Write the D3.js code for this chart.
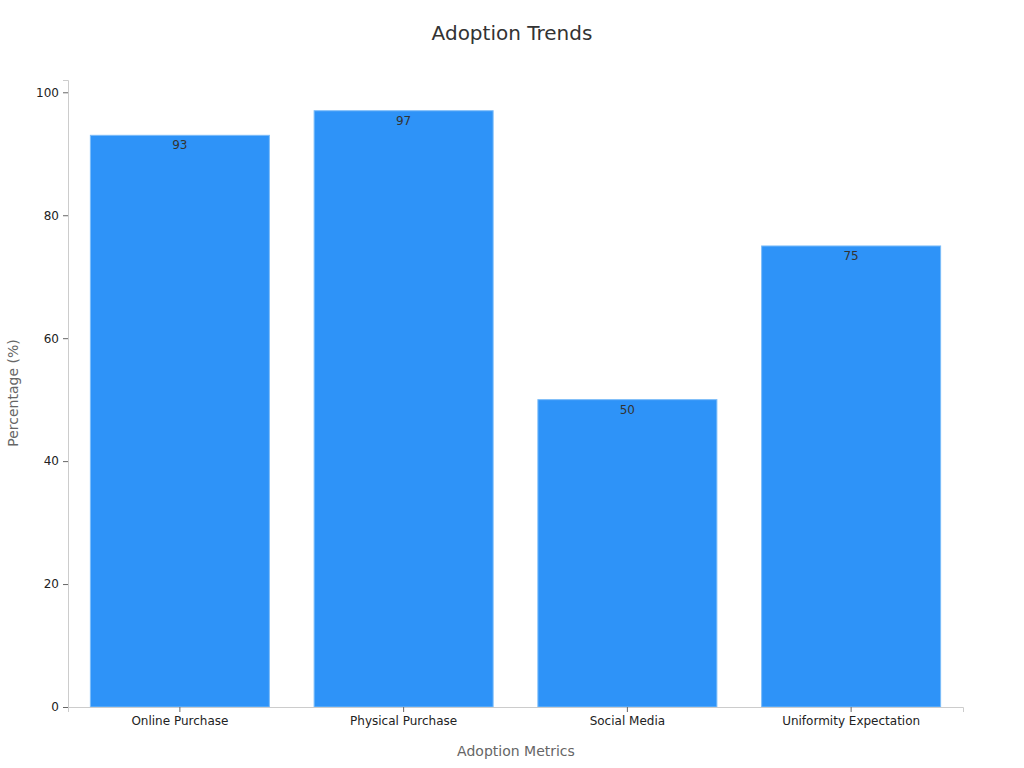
<!DOCTYPE html><html><head><meta charset="utf-8"><script src="https://cdn.jsdelivr.net/npm/d3@7"></script>
<style>body{margin:0;background:#fff}text{font-family:"DejaVu Sans",sans-serif}</style></head><body><svg id="c" width="1024" height="768"></svg><script>
const categories=["Online Purchase","Physical Purchase","Social Media","Uniformity Expectation"];
const values=[93,97,50,75];
const yTicks=[0,20,40,60,80,100];
const svg=d3.select("#c");
const m={l:68,r:963,t:80,b:707};
const x=d3.scaleBand().domain(categories).range([m.l,m.r]).paddingInner(0.2).paddingOuter(0.1);
const y=d3.scaleLinear().domain([0,102]).range([m.b,m.t]);
svg.append("text").attr("x",512).attr("y",40).attr("text-anchor","middle").attr("font-size",20).attr("fill","#333").text("Adoption Trends");
svg.selectAll("rect.b").data(values).join("rect").attr("x",(d,i)=>x(categories[i])).attr("width",x.bandwidth())
 .attr("y",d=>y(d)).attr("height",d=>y(0)-y(d)).attr("fill","#2e93f8").attr("stroke","#7bbcf9").attr("stroke-width",1);
svg.selectAll("text.v").data(values).join("text").attr("x",(d,i)=>x(categories[i])+x.bandwidth()/2).attr("y",d=>y(d)+14)
 .attr("text-anchor","middle").attr("font-size",12).attr("fill","#333").text(d=>d);
const ya=svg.append("g").attr("transform",`translate(${m.l},0)`).call(d3.axisLeft(y).tickValues(yTicks).tickSize(5).tickPadding(4));
const xa=svg.append("g").attr("transform",`translate(0,${m.b})`).call(d3.axisBottom(x).tickSize(5).tickPadding(4));
[ya,xa].forEach(a=>{a.select(".domain").attr("stroke","#ccc");a.selectAll(".tick line").attr("stroke","#666");a.selectAll("text").attr("font-size",12).attr("fill","#222").attr("font-family","DejaVu Sans");});
svg.append("text").attr("x",516).attr("y",756).attr("text-anchor","middle").attr("font-size",14).attr("fill","#666").text("Adoption Metrics");
svg.append("text").attr("transform","translate(18,393) rotate(-90)").attr("text-anchor","middle").attr("font-size",14).attr("fill","#666").text("Percentage (%)");
</script></body></html>
